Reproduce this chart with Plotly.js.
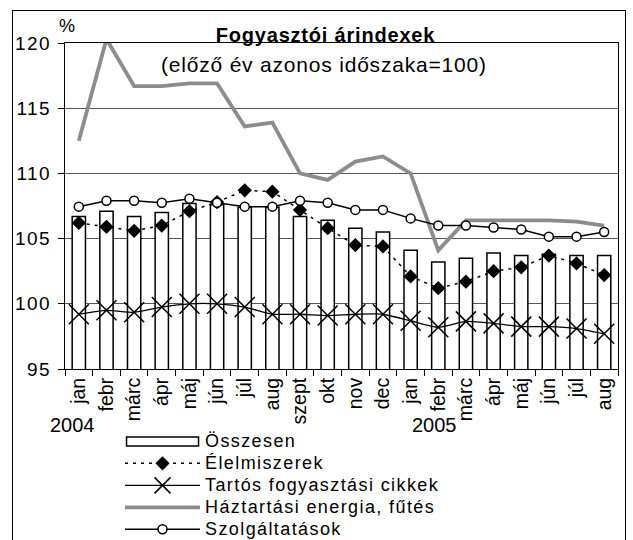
<!DOCTYPE html>
<html>
<head>
<meta charset="utf-8">
<script src="https://cdn.plot.ly/plotly-3.0.1.min.js"></script>
<style>
  html, body { margin: 0; background: #fff; overflow: hidden; }
  #chart { width: 633px; height: 540px; }
  #keret { position: absolute; left: 12px; top: 10px; width: 612px; height: 560px;
           border: 1.5px solid #000; pointer-events: none; }
  /* az eredeti ábra betűi vízszintesen szélesebbek */
  .legendtext { font-size: 18px !important; letter-spacing: 1.4px; }
  .ytick text { letter-spacing: 1.5px; }
  .gtitle { letter-spacing: 0.8px; }
  g.annotation[data-index="1"] text { letter-spacing: 0.8px; }
</style>
</head>
<body>
<div id="chart"></div>
<div id="keret"></div>
<script>
// Hónapok és évek (kategóriák)
const honapok = ["jan", "febr", "márc", "ápr", "máj", "jún", "júl", "aug", "szept", "okt", "nov", "dec",
                 "jan", "febr", "márc", "ápr", "máj", "jún", "júl", "aug"]
const evek = ["2004", "2004", "2004", "2004", "2004", "2004", "2004", "2004", "2004", "2004", "2004", "2004",
              "2005", "2005", "2005", "2005", "2005", "2005", "2005", "2005"]

// Árindexek (előző év azonos időszaka = 100)
const osszesen = [106.7, 107.1, 106.7, 107.0, 107.7, 107.6, 107.4, 107.4, 106.7, 106.4, 105.8, 105.5,
                  104.1, 103.2, 103.5, 103.9, 103.7, 103.8, 103.7, 103.7]
const elelmiszerek = [106.2, 105.9, 105.6, 106.0, 107.1, 107.8, 108.7, 108.6, 107.2, 105.8, 104.5, 104.4,
                      102.1, 101.2, 101.7, 102.5, 102.8, 103.7, 103.1, 102.2]
const tartos = [99.2, 99.5, 99.35, 99.75, 100.0, 100.0, 99.75, 99.2, 99.2, 99.1, 99.2, 99.2,
                98.7, 98.2, 98.65, 98.5, 98.25, 98.25, 98.1, 97.7]
const energia = [112.5, 120.3, 116.7, 116.7, 116.9, 116.9, 113.6, 113.9, 110.0, 109.5, 110.9, 111.3,
                 110.0, 104.1, 106.4, 106.4, 106.4, 106.4, 106.3, 106.0]
const szolgaltatasok = [107.45, 107.9, 107.9, 107.75, 108.05, 107.75, 107.45, 107.45, 107.9, 107.75, 107.2, 107.2,
                        106.55, 106.0, 106.0, 105.85, 105.7, 105.15, 105.15, 105.5]

// egyedi kategória-azonosítók (a hónapnevek ismétlődnek)
const kat = honapok.map((h, i) => evek[i] + "-" + h)

const betu = "Liberation Sans, Arial, sans-serif"

const traces = [
  {
    x: kat, y: osszesen, type: "bar", name: "Összesen", width: 0.48,
    marker: { color: "#ffffff", line: { color: "#000000", width: 1.5 } },
  },
  {
    x: kat, y: elelmiszerek, type: "scatter", mode: "lines+markers", name: "Élelmiszerek",
    line: { color: "#000000", width: 1.5, dash: "3px,5px" },
    marker: { symbol: "diamond", size: 11, color: "#000000" },
  },
  {
    x: kat, y: tartos, type: "scatter", mode: "lines+markers", name: "Tartós fogyasztási cikkek",
    line: { color: "#000000", width: 1.3, shape: "spline", smoothing: 0.5 },
    marker: { symbol: "x-thin", size: 20, color: "#000000", line: { color: "#000000", width: 1.5 } },
  },
  {
    x: kat, y: energia, type: "scatter", mode: "lines", name: "Háztartási energia, fűtés",
    line: { color: "#8c8c8c", width: 3.8 },
  },
  {
    x: kat, y: szolgaltatasok, type: "scatter", mode: "lines+markers", name: "Szolgáltatások",
    line: { color: "#000000", width: 1.5 },
    marker: { symbol: "circle", size: 9, color: "#ffffff", line: { color: "#000000", width: 1.5 } },
  },
]

const layout = {
  width: 633, height: 540,
  margin: { l: 65, r: 15, t: 43, b: 171, autoexpand: false },
  paper_bgcolor: "rgba(0,0,0,0)",
  plot_bgcolor: "#ffffff",
  font: { family: betu, color: "#000000" },
  title: {
    text: "<b>Fogyasztói árindexek</b>",
    font: { size: 20 },
    xref: "paper", x: 0.471, xanchor: "center",
    yref: "container", y: 0.936, yanchor: "middle",
  },
  xaxis: {
    type: "category", automargin: false, range: [-0.5, 19.5],
    tickmode: "array", tickvals: kat, ticktext: honapok,
    tickson: "boundaries", ticks: "outside", ticklen: 6, tickcolor: "#000000",
    tickangle: -90, tickfont: { size: 19.5 },
    showline: true, linecolor: "#000000", linewidth: 1, mirror: true,
    showgrid: false,
  },
  yaxis: {
    range: [95, 120], tickvals: [95, 100, 105, 110, 115, 120], automargin: false,
    ticks: "outside", ticklen: 6, tickcolor: "#000000", ticklabelstandoff: 3,
    tickfont: { size: 19 },
    showline: true, linecolor: "#000000", linewidth: 1, mirror: true,
    gridcolor: "#555555", gridwidth: 1, zeroline: false,
  },
  showlegend: true,
  legend: {
    orientation: "v", traceorder: "normal",
    x: 0.0995, xanchor: "left", y: -0.173, yanchor: "top",
    font: { size: 14.6 }, itemwidth: 75,
    bgcolor: "rgba(0,0,0,0)", borderwidth: 0,
  },
  annotations: [
    { text: "%", xref: "paper", yref: "paper", x: 0.0045, y: 1.053, xanchor: "center", yanchor: "middle",
      showarrow: false, font: { size: 18 } },
    { text: "(előző év azonos időszaka=100)", xref: "paper", yref: "paper", x: 0.468, y: 0.935,
      xanchor: "center", yanchor: "middle", showarrow: false, font: { size: 21 } },
    { text: "2004", xref: "paper", yref: "paper", x: 0.0127, y: -0.172, xanchor: "center", yanchor: "middle",
      showarrow: false, font: { size: 20 } },
    { text: "2005", xref: "paper", yref: "paper", x: 0.669, y: -0.172, xanchor: "center", yanchor: "middle",
      showarrow: false, font: { size: 20 } },
  ],
}

Plotly.newPlot("chart", traces, layout, { displayModeBar: false, staticPlot: true }).then(gd => {
  // az oszlop jele a jelmagyarázatban: széles, lapos téglalap
  gd.querySelectorAll(".legend .legendpoints path").forEach(p => {
    if (p.getAttribute("d") === "M6,6H-6V-6H6Z") p.setAttribute("d", "M36,4.5H-36V-4.5H36Z")
  })
})
</script>
</body>
</html>
